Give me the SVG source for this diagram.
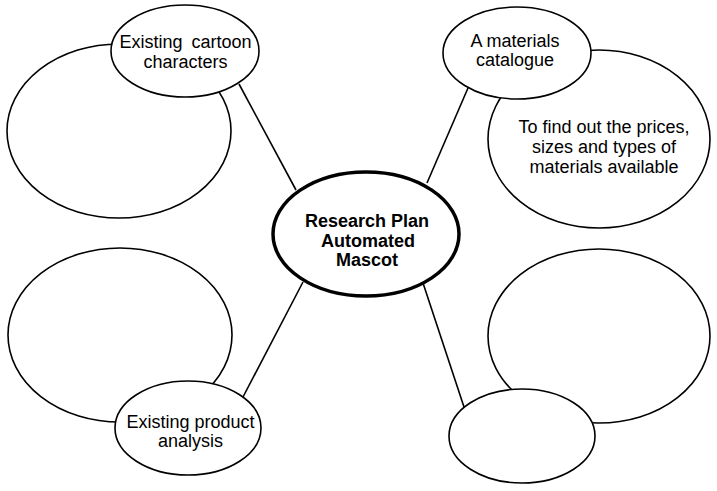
<svg xmlns="http://www.w3.org/2000/svg" width="717" height="491" viewBox="0 0 717 491">
<style>
.n{fill:#fff;stroke:#000;stroke-width:1.6}
.c{fill:#fff;stroke:#000;stroke-width:3.5}
.t{font-family:"Liberation Sans",Arial,sans-serif;font-size:18px;fill:#000;text-anchor:middle}
.b{font-weight:bold}
.l{stroke:#000;stroke-width:1.6;fill:none}
</style>
<rect width="717" height="491" fill="#fff"/>
<g id="connectors">
<line class="l" x1="239" y1="84" x2="296" y2="190"/>
<line class="l" x1="468" y1="88" x2="427" y2="183"/>
<line class="l" x1="303" y1="282" x2="243" y2="397"/>
<line class="l" x1="423" y1="283" x2="464" y2="407"/>
</g>
<g id="big-top-left"><ellipse class="n" cx="119" cy="131" rx="112" ry="87"/></g>
<g id="big-bottom-left"><ellipse class="n" cx="120" cy="335" rx="112" ry="87"/></g>
<g id="big-top-right"><ellipse class="n" cx="599" cy="139" rx="111" ry="89"/>
<text class="t" x="604" y="133">To find out the prices,</text>
<text class="t" x="604" y="153">sizes and types of</text>
<text class="t" x="604" y="173">materials available</text></g>
<g id="big-bottom-right"><ellipse class="n" cx="599" cy="336" rx="111" ry="87"/></g>
<g id="cartoon"><ellipse class="n" cx="185" cy="51" rx="74" ry="46"/>
<text class="t" x="185.5" y="48" word-spacing="4">Existing cartoon</text>
<text class="t" x="185.5" y="68">characters</text></g>
<g id="catalogue"><ellipse class="n" cx="517" cy="53" rx="74" ry="46"/>
<text class="t" x="515" y="47">A materials</text>
<text class="t" x="515" y="66">catalogue</text></g>
<g id="product"><ellipse class="n" cx="188" cy="428" rx="73" ry="47"/>
<text class="t" x="190.5" y="428">Existing product</text>
<text class="t" x="190.5" y="447">analysis</text></g>
<g id="empty-bottom-right"><ellipse class="n" cx="522" cy="436" rx="73" ry="47"/></g>
<g id="center"><ellipse class="c" cx="366" cy="234" rx="93" ry="62"/>
<text class="t b" x="367" y="227">Research Plan</text>
<text class="t b" x="368" y="247">Automated</text>
<text class="t b" x="367" y="266">Mascot</text></g>
</svg>
